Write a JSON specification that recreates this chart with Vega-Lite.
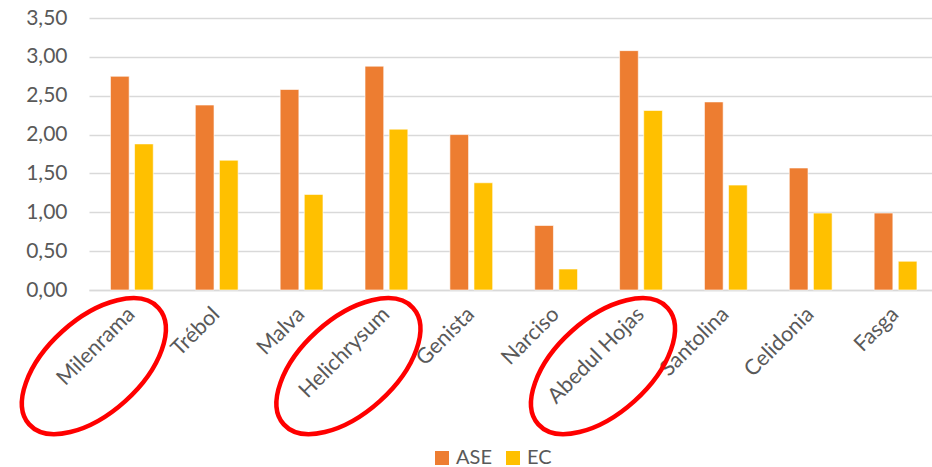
{
  "$schema": "https://vega.github.io/schema/vega-lite/v6.json",
  "width": 843,
  "height": 272,
  "autosize": {"type": "none"},
  "padding": {"left": 89, "top": 18, "right": 0, "bottom": 177},
  "background": "#FFFFFF",
  "config": {
    "view": {"stroke": null},
    "font": "Lato",
    "axisY": {
      "title": null,
      "labelOverlap": false,
      "labelFlush": false,
      "domain": false,
      "ticks": false,
      "grid": true,
      "gridColor": "#D9D9D9",
      "gridWidth": 1.5,
      "labelPadding": 22,
      "labelFont": "Lato",
      "labelFontSize": 21,
      "labelColor": "#595959"
    },
    "axisX": {
      "title": null,
      "grid": false,
      "ticks": false,
      "domain": true,
      "domainColor": "#D9D9D9",
      "domainWidth": 1.5,
      "labelAngle": -45,
      "labelAlign": "right",
      "labelBaseline": "middle",
      "labelPadding": 21,
      "labelOverlap": false,
      "labelFont": "Lato",
      "labelFontSize": 21.5,
      "labelColor": "#595959"
    }
  },
  "datasets": {
    "destacadas": [
      {"Planta": "Milenrama"},
      {"Planta": "Helichrysum"},
      {"Planta": "Abedul Hojas"}
    ]
  },
  "data": {
    "values": [
      {"Planta": "Milenrama", "Serie": "ASE", "Valor": 2.75},
      {"Planta": "Milenrama", "Serie": "EC", "Valor": 1.88},
      {"Planta": "Trébol", "Serie": "ASE", "Valor": 2.38},
      {"Planta": "Trébol", "Serie": "EC", "Valor": 1.67},
      {"Planta": "Malva", "Serie": "ASE", "Valor": 2.58},
      {"Planta": "Malva", "Serie": "EC", "Valor": 1.23},
      {"Planta": "Helichrysum", "Serie": "ASE", "Valor": 2.88},
      {"Planta": "Helichrysum", "Serie": "EC", "Valor": 2.07},
      {"Planta": "Genista", "Serie": "ASE", "Valor": 2.0},
      {"Planta": "Genista", "Serie": "EC", "Valor": 1.38},
      {"Planta": "Narciso", "Serie": "ASE", "Valor": 0.83},
      {"Planta": "Narciso", "Serie": "EC", "Valor": 0.27},
      {"Planta": "Abedul Hojas", "Serie": "ASE", "Valor": 3.08},
      {"Planta": "Abedul Hojas", "Serie": "EC", "Valor": 2.31},
      {"Planta": "Santolina", "Serie": "ASE", "Valor": 2.42},
      {"Planta": "Santolina", "Serie": "EC", "Valor": 1.35},
      {"Planta": "Celidonia", "Serie": "ASE", "Valor": 1.57},
      {"Planta": "Celidonia", "Serie": "EC", "Valor": 0.99},
      {"Planta": "Fasga", "Serie": "ASE", "Valor": 0.99},
      {"Planta": "Fasga", "Serie": "EC", "Valor": 0.37}
    ]
  },
  "layer": [
    {
      "mark": {"type": "bar", "stroke": "#FFFFFF", "strokeWidth": 0.6},
      "encoding": {
        "x": {
          "field": "Planta",
          "type": "nominal",
          "sort": null,
          "scale": {"paddingInner": 0.4955, "paddingOuter": 0.215, "align": 0.588}
        },
        "xOffset": {
          "field": "Serie",
          "type": "nominal",
          "scale": {"paddingInner": 0.224, "paddingOuter": 0}
        },
        "y": {
          "field": "Valor",
          "type": "quantitative",
          "scale": {"domain": [0, 3.5], "nice": false, "zero": true},
          "axis": {
            "values": [0, 0.5, 1, 1.5, 2, 2.5, 3, 3.5],
            "labelExpr": "replace(format(datum.value, '.2f'), '.', ',')"
          }
        },
        "color": {
          "field": "Serie",
          "type": "nominal",
          "scale": {"domain": ["ASE", "EC"], "range": ["#ED7D31", "#FFC000"]},
          "legend": {
            "title": null,
            "orient": "none",
            "legendX": 343,
            "legendY": 430,
            "direction": "horizontal",
            "symbolType": "square",
            "symbolSize": 196,
            "symbolStrokeWidth": 0,
            "labelFont": "Lato",
            "labelFontSize": 20,
            "labelColor": "#595959",
            "labelOffset": 4,
            "columnPadding": 11,
            "padding": 0
          }
        }
      }
    },
    {
      "data": {"name": "destacadas"},
      "mark": {
        "type": "point",
        "shape": "M -1 0 A 1 0.54 0 1 1 1 0 A 1 0.54 0 1 1 -1 0 Z",
        "size": 30276,
        "angle": -42,
        "filled": false,
        "stroke": "#FF0000",
        "strokeWidth": 4.5,
        "opacity": 1,
        "xOffset": -38,
        "clip": false
      },
      "encoding": {
        "x": {"field": "Planta", "type": "nominal", "sort": null},
        "y": {
          "datum": -0.98,
          "axis": {
            "values": [0, 0.5, 1, 1.5, 2, 2.5, 3, 3.5],
            "labelExpr": "replace(format(datum.value, '.2f'), '.', ',')"
          }
        }
      }
    }
  ]
}
